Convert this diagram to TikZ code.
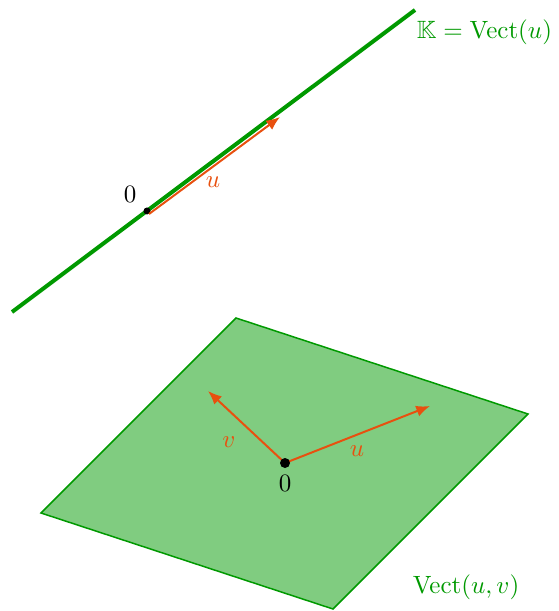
\documentclass[tikz,border=0pt]{standalone}
\usepackage{amsmath,amssymb}
\usepackage{xcolor}
\usepackage{tikz}
\usetikzlibrary{arrows.meta}
\definecolor{cGreen} {HTML}{009900}
\definecolor{cVec}{HTML}{E8500F}

\begin{document}
\begin{tikzpicture}[x=0.4pt,y=-0.4pt,
    vec/.style={cVec,line width=0.8pt,-{Latex[length=5.5pt,width=4.5pt]}},
    lbl/.style={font=\normalsize,inner sep=1pt}]
  \useasboundingbox (0,0) rectangle (558,611);
  % droite
  \coordinate (dA) at (12,312);
  \coordinate (dB) at (415,10);
  \draw[cGreen,line width=1.6pt] (dA) -- (dB);   % K = Vect(u)
  \coordinate (o1) at (147,211);
  \fill (o1) circle (3.5);
  \node[lbl] (z1) at (130,194) {$0$};
  \coordinate (u1s) at (149,214);
  \coordinate (u1e) at (280,117);
  \draw[vec] (u1s) -- (u1e);
  \node[lbl,cVec] (lu1) at (213,182) {$u$};
  \node[lbl,cGreen,anchor=east] (lK) at (555,32) {$\mathbb{K}=\mathrm{Vect}(u)$};
  % plan
  \coordinate (p1) at (236,318);
  \coordinate (p2) at (528,414);
  \coordinate (p3) at (333,609);
  \coordinate (p4) at (41,513);
  \filldraw[draw=cGreen,fill=cGreen!50,line width=0.6pt] (p1) -- (p2) -- (p3) -- (p4) -- cycle;
  \coordinate (o2) at (285,463);
  \coordinate (ve) at (208,391);
  \coordinate (ue) at (430,406);
  \draw[vec] (o2) -- (ve);
  \draw[vec] (o2) -- (ue);
  \fill (o2) circle (5);
  \node[lbl] (z2) at (285,483) {$0$};
  \node[lbl,cVec] (lv) at (229,442) {$v$};
  \node[lbl,cVec] (lu2) at (357,451) {$u$};
  \node[lbl,cGreen] (lP) at (466,587) {$\mathrm{Vect}(u,v)$};
\end{tikzpicture}
\end{document}
